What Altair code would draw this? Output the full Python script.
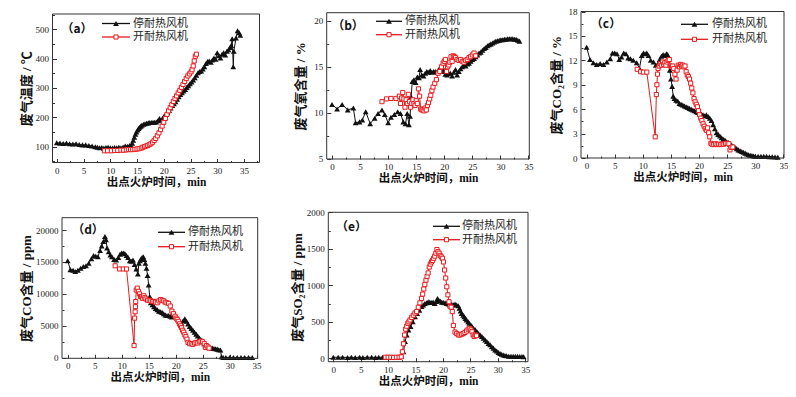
import altair as alt
import pandas as pd

# ---------------- data ----------------
series_names = ["停耐热风机", "开耐热风机"]
panel_labels = ["（a）", "（b）", "（c）", "（d）", "（e）"]
x_title = "出点火炉时间，min"
x_ticks = [0, 5, 10, 15, 20, 25, 30, 35]
x_minor = [2.5, 7.5, 12.5, 17.5, 22.5, 27.5, 32.5, 37.5]
y_titles = ["废气温度 / ℃", "废气氧含量 / %", "废气CO₂含量 / %", "废气CO含量 / ppm", "废气SO₂含量 / ppm"]
y_ticks = [[100, 200, 300, 400, 500], [5, 10, 15, 20], [0, 3, 6, 9, 12, 15, 18],
           [0, 5000, 10000, 15000, 20000], [0, 500, 1000, 1500, 2000]]
y_minor = [[50, 150, 250, 350, 450, 550], [7.5, 12.5, 17.5], [1.5, 4.5, 7.5, 10.5, 13.5, 16.5],
           [2500, 7500, 12500, 17500], [250, 750, 1250, 1750]]

# (a) exhaust temperature
a_stop_t = [0, 0.6, 1.2, 1.8, 2.4, 3.0, 3.6, 4.2, 4.8, 5.4, 6.0, 6.6, 7.2, 7.6, 8.0, 8.4, 8.8, 9.2, 9.6, 10.0,
            10.4, 10.8, 11.2, 11.6, 12.0, 12.4, 12.8, 13.2, 13.6, 13.9,
            14.1, 14.3, 14.5, 14.7, 14.9, 15.1, 15.3, 15.5, 15.7, 15.9,
            16.2, 16.5, 16.8, 17.1, 17.4, 17.7, 18.0, 18.3, 18.6, 18.9, 19.2, 19.5, 19.8, 20.1, 20.4, 20.7,
            21.0, 21.3, 21.6, 21.9, 22.2, 22.5, 22.8, 23.1, 23.4, 23.7, 24.0, 24.3, 24.6, 24.9, 25.2, 25.5,
            25.8, 26.1, 26.4, 26.7, 27.0, 27.3, 27.6, 27.9, 28.2, 28.5, 28.8, 29.1, 29.4, 29.7, 30.0, 30.3,
            30.6, 30.9, 31.2, 31.5, 31.8, 32.1, 32.4,
            32.6, 32.8, 33.0, 33.1, 33.5, 33.8, 34.1, 34.3]
a_stop_v = [113, 112, 111, 112, 110, 109, 110, 107, 106, 106, 104, 102, 100, 98, 96, 97, 95, 97, 98, 96,
            95, 97, 96, 98, 96, 99, 102, 101, 104, 103,
            112, 122, 132, 142, 150, 157, 162, 166, 170, 173,
            176, 178, 180, 181, 182, 182, 183, 183, 184, 188, 196, 190, 197, 205, 210, 216,
            223, 232, 240, 246, 253, 262, 270, 278, 284, 290, 295, 302, 308, 314, 320, 327,
            335, 343, 352, 356, 358, 365, 372, 383, 390, 392, 388, 395, 402, 398, 420, 410,
            402, 415, 420, 412, 425, 430, 438,
            445, 468, 372, 425, 470, 495, 488, 480]
a_open_t = [8.9, 9.5, 10.2, 10.8, 11.4, 12.0, 12.5, 13.0, 13.4, 13.8, 14.2, 14.6, 15.0, 15.4, 15.8, 16.1,
            16.4, 16.7, 17.0, 17.3, 17.6, 17.9, 18.2, 18.5, 18.8, 19.1, 19.4, 19.7, 20.0, 20.3, 20.6, 20.9,
            21.2, 21.5, 21.8, 22.1, 22.4, 22.7, 23.0, 23.3, 23.6, 23.9, 24.2, 24.5, 24.8, 25.1, 25.3, 25.5,
            25.7, 25.9, 26.1]
a_open_v = [86, 86, 86, 87, 87, 88, 88, 89, 90, 90, 90, 91, 92, 93, 95, 98,
            100, 102, 104, 107, 110, 115, 121, 128, 137, 147, 158, 170, 183, 196, 210, 222,
            233, 243, 254, 264, 273, 283, 292, 302, 312, 322, 332, 341, 348, 355, 362, 375,
            392, 408, 415]

# (b) exhaust O2
b_stop_t = [0, 0.9, 1.8, 2.8, 3.8, 4.2, 4.9, 5.4, 6.0, 6.8, 7.6, 8.2, 8.9, 9.4, 10.0, 10.5, 11.1, 11.7,
            12.2, 12.7, 13.1, 13.4, 13.7, 13.9,
            14.1, 14.3, 14.6, 14.9, 15.2, 15.5, 15.7,
            16.0, 16.3, 16.6, 16.9, 17.2, 17.5, 17.8, 18.1, 18.4, 18.7, 19.0, 19.3, 19.6, 19.9, 20.2, 20.5,
            20.8, 21.1, 21.4, 21.7, 22.0, 22.3, 22.6, 22.9, 23.2, 23.5, 23.8, 24.1, 24.4, 24.7, 25.0, 25.3,
            25.6, 25.9, 26.2, 26.5, 26.8, 27.1, 27.4, 27.7, 28.0, 28.3, 28.6, 28.9, 29.2, 29.5, 29.8, 30.1,
            30.4, 30.7, 31.0, 31.3, 31.6, 31.9, 32.2, 32.5, 32.8, 33.1, 33.4]
b_stop_v = [10.9, 10.4, 10.9, 10.3, 10.5, 8.9, 9.0, 9.2, 10.1, 8.8, 9.4, 9.9, 10.3, 9.8, 8.9, 9.5, 9.8, 10.1,
            9.9, 9.0, 8.8, 9.9, 8.7, 9.6,
            11.7, 13.4, 13.6, 13.3, 13.9, 13.8, 14.7,
            14.1, 14.0, 14.3, 14.5, 14.4, 14.6, 14.4, 14.5, 14.5, 14.4, 14.7, 14.6, 14.5, 14.7, 14.2, 14.1,
            14.3, 14.3, 14.0, 14.4, 14.7, 14.1, 14.5, 14.8, 15.0, 15.2, 15.1, 15.3, 15.4, 15.6, 15.8, 15.9,
            16.1, 16.3, 16.5, 16.6, 16.8, 17.0, 17.1, 17.3, 17.4, 17.5, 17.6, 17.7, 17.8, 17.85, 17.9, 17.95,
            17.95, 18.0, 18.0, 18.05, 18.05, 18.05, 18.05, 18.0, 18.0, 17.9, 17.8]
b_open_t = [8.9, 9.7, 10.5, 11.4, 12.0,
            12.2, 12.4, 12.6, 12.8, 13.0, 13.2, 13.4, 13.6, 13.8, 14.0, 14.2, 14.4, 14.6, 14.8, 15.0,
            15.2, 15.4, 15.6, 15.8, 16.0, 16.2, 16.4, 16.6, 16.8, 17.0, 17.2, 17.4, 17.6, 17.8, 18.0,
            18.3, 18.6, 18.9, 19.2, 19.5, 19.8,
            20.0, 20.2, 20.4, 20.6, 20.8, 21.0, 21.2, 21.4, 21.6, 21.8, 22.0,
            22.3, 22.6, 22.9, 23.2, 23.5, 23.8, 24.1, 24.4, 24.7, 25.0, 25.3, 25.6]
b_open_v = [11.2, 11.5, 11.55, 11.55, 11.8,
            11.0, 11.6, 12.2, 11.5, 10.6, 11.4, 11.0, 12.0, 11.2, 10.6, 11.0, 11.4, 11.0, 10.8, 11.3,
            11.0, 12.6, 11.8, 10.4, 10.3, 10.3, 10.2, 10.5, 10.3, 10.8, 11.1, 11.5, 11.9, 12.4, 12.8,
            13.2, 13.6, 14.3, 14.5, 15.0, 15.4,
            15.6, 15.8, 14.5, 15.0, 15.2, 15.5, 16.1, 15.6, 16.2, 16.1, 16.0,
            15.8, 15.7, 15.8, 15.6, 15.5, 15.7, 15.8, 16.0, 16.1, 16.3, 16.5, 16.2]

# (c) exhaust CO2
c_stop_t = [0, 0.6, 1.2, 1.8, 2.4, 3.0, 3.6, 4.2, 4.6, 5.0, 5.4, 5.8, 6.2, 6.6, 7.0, 7.4, 7.8, 8.3, 8.9,
            9.4, 9.8, 10.1, 10.4, 10.7, 11.0, 11.4, 11.9, 12.3, 12.7, 13.0, 13.3, 13.6, 13.9, 14.2, 14.4,
            14.6, 14.8, 15.0, 15.2, 15.4, 15.6,
            15.9, 16.2, 16.5, 16.8, 17.1, 17.4, 17.7, 18.0, 18.3, 18.6, 18.9, 19.2, 19.5, 19.8, 20.1, 20.4,
            20.7, 21.0, 21.3, 21.6, 21.9, 22.2, 22.5, 22.8, 23.1, 23.4, 23.7, 24.0, 24.3, 24.6, 24.9, 25.2,
            25.5, 25.8, 26.1, 26.4, 26.7, 27.0, 27.3, 27.6, 27.9, 28.2, 28.5, 28.8, 29.1, 29.4, 29.7, 30.0,
            30.5, 31.0, 31.5, 32.0, 32.5, 33.0, 33.5, 34.0]
c_stop_v = [13.6, 12.1, 11.7, 11.5, 11.6, 11.5, 11.8, 12.2, 12.9, 12.9, 12.8, 12.1, 12.4, 12.9, 12.8, 12.3,
            12.2, 12.0, 11.7, 11.0, 12.6, 12.9, 12.8, 12.9, 12.6, 12.0, 11.8, 11.4, 11.6, 12.1, 12.5, 12.7,
            12.6, 12.8, 12.7, 12.1, 10.8, 9.7, 8.8, 7.6, 7.3,
            7.1, 7.0, 6.7, 6.6, 6.5, 6.4, 6.3, 6.2, 6.1, 6.0, 5.9, 5.8, 5.7, 5.6, 5.5, 5.4,
            5.3, 5.2, 5.3, 5.1, 4.9, 4.6, 4.1, 3.6, 3.1, 2.9, 2.7, 2.5, 2.3, 2.2, 2.0, 1.9,
            1.7, 1.6, 1.45, 1.3, 1.15, 1.0, 0.9, 0.8, 0.7, 0.6, 0.5, 0.4, 0.35, 0.3, 0.25, 0.2,
            0.2, 0.2, 0.2, 0.2, 0.15, 0.15, 0.12, 0.1]
c_open_t = [9.0, 9.6, 10.1, 10.7, 12.2, 12.4, 12.5, 12.6, 12.7,
            12.9, 13.1, 13.3, 13.5, 13.7, 13.9, 14.1, 14.3, 14.5, 14.7, 14.9, 15.1, 15.3, 15.5, 15.7, 15.9,
            16.1, 16.3, 16.5, 16.7, 16.9, 17.1, 17.3, 17.5, 17.7, 17.9, 18.1, 18.3, 18.5, 18.7, 18.9, 19.1,
            19.3, 19.5, 19.7, 19.9, 20.1, 20.3, 20.5, 20.7, 20.9, 21.1, 21.3, 21.5, 21.7, 21.9, 22.1, 22.3,
            22.6, 22.9, 23.2, 23.5, 23.8, 24.1, 24.4, 24.7, 25.0,
            25.3, 25.5, 25.7, 26.0]
c_open_v = [10.9, 10.6, 10.55, 10.55, 2.6, 7.8, 9.0, 10.3, 11.0,
            11.3, 11.6, 11.4, 11.8, 11.5, 11.7, 11.4, 11.8, 12.0, 12.1, 11.3, 11.2, 11.3, 11.0, 10.3, 9.7,
            10.8, 11.4, 11.2, 11.5, 11.3, 11.4, 11.2, 11.3, 10.6, 10.2, 10.0, 9.7, 9.2, 8.6, 8.0, 7.3,
            6.9, 6.6, 6.3, 5.8, 5.3, 4.9, 4.6, 4.2, 3.9, 3.6, 3.4, 3.7, 3.1, 2.6, 1.8, 1.7,
            1.65, 1.75, 1.65, 1.7, 1.65, 1.7, 1.7, 1.8, 1.8,
            1.75, 1.0, 1.3, 1.35]

# (d) exhaust CO
d_stop_t = [0, 0.5, 1.0, 1.4, 1.9, 2.4, 2.9, 3.4, 3.9, 4.4, 4.8, 5.2, 5.6, 6.0, 6.3, 6.6, 6.9, 7.1, 7.3,
            7.6, 7.9, 8.2, 8.6, 9.0, 9.4, 9.7, 10.0, 10.3, 10.6, 10.9, 11.2, 11.5, 11.8, 12.1, 12.4, 12.7,
            13.0,
            13.2, 13.4, 13.6, 13.8, 14.0, 14.2, 14.4, 14.6, 14.8, 15.0, 15.2,
            15.4, 15.7,
            16.0, 16.3, 16.6, 16.9, 17.2, 17.5, 17.8, 18.1, 18.4, 18.7, 19.0, 19.3, 19.6, 19.9, 20.2, 20.5,
            20.8, 21.1, 21.4, 21.7, 22.0, 22.3, 22.6, 22.9, 23.2, 23.5, 23.8, 24.1, 24.4, 24.7, 25.0, 25.3,
            25.6, 25.9, 26.2, 26.5, 26.8, 27.1, 27.4, 27.7, 28.0, 28.3,
            28.5, 28.8, 29.3, 30.0, 30.7, 31.4, 32.1, 32.8, 33.5, 34.2]
d_stop_v = [15200, 13800, 13700, 13500, 13700, 14000, 14300, 14400, 14800, 15500, 16000, 15900, 15800,
            16800, 17500, 18200, 19000, 18500, 17200, 16600, 16100, 15800, 15400, 15300, 15700, 16200,
            16400, 16400, 16300, 16000, 15700, 15200, 15100, 15300, 14600, 13900, 13100,
            14800, 15200, 15500, 15700, 15800, 15400, 14800, 14000, 12900, 11400, 9600,
            8600, 8300,
            8000, 7700, 7500, 7300, 7200, 7100, 6900, 6700, 6600, 6600, 6500, 6400, 6500, 6700, 6400, 6000,
            5700, 5400, 5800, 6100, 5700, 5300, 4900, 4600, 4300, 4000, 3700, 3400, 3100, 2800, 2500, 2200,
            2000, 1800, 1600, 1550, 1500, 1450, 1400, 1350, 1250, 1200,
            150, 50, 50, 50, 50, 50, 50, 50, 50, 50]
d_open_t = [8.8, 9.6, 10.3, 10.9, 12.3, 12.4, 12.5, 12.55, 12.6, 12.7,
            12.9, 13.1, 13.3, 13.5, 13.7, 13.9, 14.1, 14.3, 14.5,
            14.8, 15.1, 15.4, 15.7, 16.0, 16.3, 16.6, 16.9, 17.2, 17.5, 17.8, 18.1, 18.4, 18.7, 19.0, 19.3,
            19.6,
            19.9, 20.1, 20.3, 20.5, 20.7, 20.9, 21.1, 21.3, 21.5, 21.7, 21.9, 22.1, 22.3,
            22.6, 22.9, 23.2, 23.5, 23.8, 24.1, 24.4, 24.7, 25.0, 25.3,
            25.5, 25.7, 26.0, 26.2]
d_open_v = [14400, 13900, 13900, 13900, 1900, 6200, 7200, 8000, 8800, 10600,
            10900, 10400, 10000, 9600, 9500, 9300, 9700, 9400, 9200,
            9000, 9000, 8900, 8800, 8800, 8700, 8600, 8900, 9100, 9000, 8900, 8700, 8600, 8500, 8100, 7300,
            6900,
            6500, 6200, 6000, 5700, 5300, 5000, 4700, 4300, 4000, 3600, 3300, 2900, 2400,
            2200, 2200, 2100, 2300, 2400, 2300, 2500, 2600, 2500, 2200,
            1600, 1900, 1700, 1500]

# (e) exhaust SO2
e_stop_t = [0, 0.9, 1.7, 2.6, 3.3, 4.0, 4.8, 5.4, 6.2, 7.0, 7.7, 8.3, 9.0, 9.5, 10.0, 10.5, 11.0, 11.5,
            12.0, 12.4,
            12.8, 13.1, 13.4, 13.7, 14.1, 14.5, 14.9, 15.3, 15.7, 16.1,
            16.4, 16.7, 17.0, 17.3, 17.6, 17.9, 18.2, 18.5, 18.8, 19.0, 19.2, 19.5, 19.8, 20.1, 20.4, 20.7,
            21.0, 21.3, 21.6, 21.9, 22.2, 22.5, 22.8,
            23.0, 23.2, 23.4, 23.7, 23.9, 24.1, 24.3, 24.6, 24.8, 25.1, 25.3, 25.6,
            25.9, 26.2, 26.5, 26.8, 27.1, 27.4, 27.7, 28.0, 28.3, 28.6, 28.9, 29.2, 29.5, 29.8, 30.1, 30.4,
            30.7, 31.0, 31.3, 31.6,
            32.0, 32.4, 32.8, 33.2, 33.6, 34.0, 34.4, 34.7]
e_stop_v = [15, 15, 15, 12, 15, 12, 15, 12, 15, 15, 12, 15, 15, 12, 15, 12, 15, 15, 18, 25,
            90, 230, 320, 390, 435, 500, 570, 615, 660, 710,
            730, 750, 760, 775, 770, 765, 770, 750, 780, 820, 800, 785, 770, 765, 760, 750,
            745, 735, 740, 735, 745, 730, 720,
            685, 650, 615, 590, 570, 545, 525, 500, 480, 455, 435, 410,
            390, 365, 340, 320, 300, 275, 250, 230, 205, 185, 160, 140, 115, 100, 80, 65,
            55, 45, 40, 35,
            30, 28, 27, 27, 27, 25, 25, 23]
e_open_t = [9.5, 10.0, 10.5, 11.0, 11.5, 12.0, 12.4,
            12.6, 12.8, 13.0, 13.2, 13.4, 13.6, 13.8, 14.0,
            14.3, 14.6, 14.9, 15.2, 15.5, 15.8,
            16.1, 16.3, 16.5, 16.7, 16.9, 17.1, 17.3, 17.5, 17.7, 17.9, 18.1, 18.3, 18.5, 18.7, 18.9, 19.1,
            19.3, 19.5, 19.7, 19.9, 20.1, 20.3, 20.5, 20.7, 20.9, 21.1, 21.3, 21.5, 21.7, 21.9,
            22.2, 22.5, 22.8, 23.1, 23.4, 23.7, 24.0, 24.3, 24.6, 24.9,
            25.1, 25.3, 25.5, 25.7, 25.9, 26.1]
e_open_v = [15, 15, 15, 12, 15, 15, 20,
            90, 200, 320, 400, 440, 480, 500, 525,
            560, 590, 620, 640, 700, 760,
            820, 880, 950, 1010, 1070, 1120, 1170, 1250, 1290, 1320, 1340, 1370, 1400, 1440, 1490, 1460,
            1440, 1410, 1390, 1370, 1320, 1210, 1100, 980, 870, 775, 710, 700, 640, 450,
            360, 340, 320, 320, 330, 340, 355, 375, 400, 410,
            390, 365, 320, 300, 320, 310]

stop_t = [a_stop_t, b_stop_t, c_stop_t, d_stop_t, e_stop_t]
stop_v = [a_stop_v, b_stop_v, c_stop_v, d_stop_v, e_stop_v]
open_t = [a_open_t, b_open_t, c_open_t, d_open_t, e_open_t]
open_v = [a_open_v, b_open_v, c_open_v, d_open_v, e_open_v]

# ---------------- layout (page pixels) ----------------
W, H = 780, 381
M = 8
layout = [
    dict(left=52.5, right=259.5, top=14, bottom=162.5, xdom=[-0.8, 37.9], ydom=[46, 552], gap=20.5,
         leg=(102, 130, [23.5, 37], 133), lab=(77, 29)),
    dict(left=326.7, right=529.3, top=12.7, bottom=159, xdom=[-0.95, 35.15], ydom=[4.95, 20.9], gap=20,
         leg=(376, 402, [21.3, 34.7], 405), lab=(348, 26)),
    dict(left=581, right=784, top=11.5, bottom=158, xdom=[-1.0, 35.1], ydom=[0, 18], gap=19,
         leg=(681, 708, [24.3, 39.3], 712), lab=(606, 24)),
    dict(left=62, right=257.7, top=217.7, bottom=358.3, xdom=[-1.05, 35.2], ydom=[-90, 21930], gap=30,
         leg=(158, 185, [232.3, 246.7], 188), lab=(88, 230)),
    dict(left=328.3, right=528, top=212.3, bottom=361.7, xdom=[-0.9, 35.5], ydom=[-46, 2000], gap=25,
         leg=(433, 460, [226.3, 239.7], 462), lab=(351.5, 227)),
]

BLACK = "#111111"
RED = "#e8191b"
CJK = "'Noto Sans CJK SC'"
TITLE_FONT = "'Liberation Serif', 'Noto Sans CJK SC'"
one = pd.DataFrame({"k": [0]})


def tri(**kw):
    return dict(shape="triangle-up", filled=True, color=BLACK, size=34, opacity=1, **kw)


def sq(**kw):
    return dict(shape="square", filled=True, fill="white", stroke=RED, strokeWidth=1, size=17, opacity=1, **kw)


def build(i):
    L = layout[i]
    x0, x1 = L["left"] - M, L["right"] - M
    yt, yb = L["top"] - M, L["bottom"] - M
    xs = alt.Scale(domain=L["xdom"], range=[x0, x1], nice=False, zero=False)
    ys = alt.Scale(domain=L["ydom"], range=[yb, yt], nice=False, zero=False)
    xa = alt.Axis(orient="bottom", offset=yb - H, values=x_ticks, title=x_title, format="d",
                  tickSize=0, labelPadding=3.5, titlePadding=1, labelFlush=False, titleFontSize=11.5)
    ext = L["gap"] - 3
    ya = alt.Axis(orient="left", offset=-x0, values=y_ticks[i], title=y_titles[i], format="d",
                  tickSize=0, labelPadding=4, titlePadding=2, minExtent=ext, maxExtent=ext,
                  titleFontSize=13)
    X = alt.X("t:Q", scale=xs, axis=xa)
    Y = alt.Y("v:Q", scale=ys, axis=ya)

    layers = []
    for tt, vv, color, mk in [(stop_t[i], stop_v[i], BLACK, tri()), (open_t[i], open_v[i], RED, sq())]:
        df = pd.DataFrame({"t": tt, "v": vv, "i": list(range(len(tt)))})
        layers.append(alt.Chart(df).mark_line(color=color, strokeWidth=1).encode(x=X, y=Y, order="i:Q"))
        layers.append(alt.Chart(df).mark_point(**mk).encode(x=X, y=Y))

    frame_df = pd.DataFrame({"t": [L["xdom"][0]], "t2": [L["xdom"][1]],
                             "v": [L["ydom"][0]], "v2": [L["ydom"][1]]})
    layers.append(alt.Chart(frame_df).mark_rect(fillOpacity=0, stroke="#333333", strokeWidth=1)
                  .encode(x=X, x2="t2:Q", y=Y, y2="v2:Q"))

    lx0, lx1, lys, tx = L["leg"]
    for j, (name, color, mk) in enumerate([(series_names[0], BLACK, tri()),
                                            (series_names[1], RED, sq())]):
        yy = lys[j] - M
        layers.append(alt.Chart(one).mark_rule(color=color, strokeWidth=1.3).encode(
            x=alt.value(lx0 - M), x2=alt.value(lx1 - M), y=alt.value(yy)))
        layers.append(alt.Chart(one).mark_point(**mk).encode(
            x=alt.value((lx0 + lx1) / 2 - M), y=alt.value(yy)))
        layers.append(alt.Chart(one).mark_text(align="left", baseline="middle", font=CJK,
                                               fontSize=11, color="#222222").encode(
            x=alt.value(tx - M), y=alt.value(yy), text=alt.value(name)))
    cx, cy = L["lab"]
    layers.append(alt.Chart(one).mark_text(align="center", baseline="middle", font=CJK, fontSize=12,
                                           fontWeight="bold", color="#111111").encode(
        x=alt.value(cx - M), y=alt.value(cy - M), text=alt.value(panel_labels[i])))
    main = alt.layer(*layers)

    # inward tick marks (major and minor), drawn as extra axes on identical scales
    tick_layers = []
    xm = [v for v in x_minor if L["xdom"][0] < v < L["xdom"][1]]
    ym = [v for v in y_minor[i] if L["ydom"][0] < v < L["ydom"][1]]
    for size, xv, yv in [(4, x_ticks, y_ticks[i]), (2, xm, ym)]:
        txa = alt.Axis(orient="bottom", offset=(yb - size) - H, values=xv, labels=False, domain=False,
                       title=None, tickSize=size, tickColor="#333333")
        tya = alt.Axis(orient="left", offset=-(x0 + size), values=yv, labels=False, domain=False,
                       title=None, tickSize=size, tickColor="#333333")
        sxs = alt.Scale(domain=L["xdom"], range=[x0, x1], nice=False, zero=False)
        sys_ = alt.Scale(domain=L["ydom"], range=[yb, yt], nice=False, zero=False)
        tick_layers.append(
            alt.Chart(frame_df).mark_rect(fillOpacity=0, strokeOpacity=0).encode(
                x=alt.X("t:Q", scale=sxs, axis=txa), x2="t2:Q",
                y=alt.Y("v:Q", scale=sys_, axis=tya), y2="v2:Q"))
    return [main] + tick_layers


all_layers = []
for i in range(5):
    all_layers.extend(build(i))

chart = (
    alt.layer(*all_layers)
    .resolve_scale(x="independent", y="independent")
    .properties(width=W, height=H, padding=0, autosize=alt.AutoSizeParams(type="none"))
    .configure_view(strokeWidth=0)
    .configure_axis(grid=False, domain=False, tickColor="#333333", tickWidth=1,
                    labelFont="Liberation Serif", labelFontSize=9, labelColor="#222222",
                    titleFont=TITLE_FONT, titleFontWeight="bold", titleColor="#111111")
)

chart.save("out.html", embed_options={"renderer": "svg", "actions": False})
